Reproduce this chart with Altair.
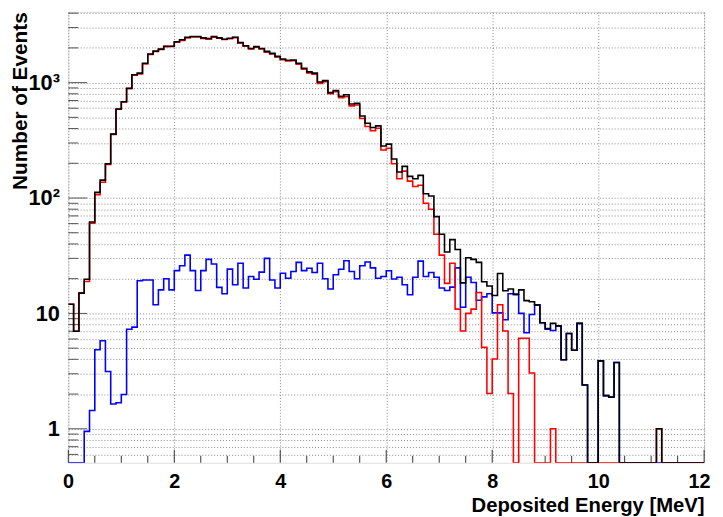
import altair as alt
import pandas as pd

# ---- data (120 bins of 0.1 MeV, 0-12 MeV) ----
bin_lo = [round(i * 0.1, 1) for i in range(120)]
bin_hi_last = 12.0

black = [12.0, 7.0, 15.0, 19.8, 62, 112, 143, 198, 358, 590,
         682, 894, 1169, 1208, 1472, 1771, 1876, 1951, 2070, 2070,
         2260, 2350, 2473, 2508, 2508, 2443, 2410, 2508, 2443, 2380,
         2425, 2473, 2227, 2090, 1978, 2050, 1978, 1866, 1794, 1690,
         1603, 1562, 1570, 1472, 1333, 1239, 1208, 1012, 1040, 819,
         855, 763, 785, 652, 661, 514, 444, 408, 422, 282,
         293, 218, 168, 188, 154, 147, 157, 109, 104, 69,
         48.5, 34, 43.6, 35.8, 18.4, 30.4, 29.4, 27.7, 18.8, 17.3,
         14.3, 22.2, 15.7, 16.3, 14.7, 16.0, 12.9, 12.6, 11.8, 8.3,
         7.4, 8.2, 7.8, 3.97, 6.7, 4.8, 8.2, 2.4, 0, 0,
         3.88, 1.94, 1.88, 3.75, 0, 0, 0, 0, 0, 0,
         0, 1.0, 0, 0, 0, 0, 0, 0, 0, 0]

red = [12.0, 7.0, 15.0, 18.9, 60.5, 107, 137, 195, 356, 588,
       680, 887, 1161, 1189, 1452, 1751, 1864, 1935, 2050, 2054,
       2237, 2324, 2441, 2485, 2492, 2420, 2381, 2481, 2426, 2365,
       2401, 2455, 2200, 2073, 1957, 2030, 1955, 1836, 1774, 1673,
       1581, 1542, 1547, 1444, 1310, 1214, 1185, 985, 1020, 803,
       833, 739, 756, 629, 641, 488, 416, 383, 402, 261,
       270, 198, 147, 171, 140, 126, 129, 90, 80, 48.6,
       32, 18.2, 27.2, 10.9, 7.05, 10, 10.9, 15.2, 5.08, 2.02,
       4.03, 11.9, 7.05, 2.02, 0, 6.1, 6.1, 3.04, 0, 0,
       0, 1.0, 0, 0, 0, 0, 0, 0, 0, 0,
       0, 0, 0, 0, 0, 0, 0, 0, 0, 0,
       0, 1.0, 0, 0, 0, 0, 0, 0, 0, 0]

blue = [0, 0, 0, 0.95, 1.44, 4.85, 5.8, 3.14, 1.64, 1.68,
        1.98, 7.3, 7.6, 19.2, 19.5, 19.5, 11.9, 16, 20, 16,
        23.5, 25.9, 32, 23.5, 15.8, 23.5, 29.4, 26.8, 16.8, 14.8,
        24.2, 17.7, 27.2, 16.6, 20.9, 19.8, 22.8, 30.0, 19.5, 16.6,
        22.3, 20.2, 23.1, 27.7, 23.5, 24.6, 22.6, 27.2, 20, 16.3,
        21.6, 24.1, 28.6, 23.1, 20, 25.9, 27.9, 24.8, 20.2, 20.9,
        23.4, 19.9, 20.6, 17.7, 14.5, 20.6, 28.4, 20.9, 22.6, 20.6,
        16.6, 15.8, 16.9, 24.8, 11.3, 20.6, 18.5, 13, 13.9, 14.8,
        10.1, 10.1, 8.8, 14.8, 14.5, 10, 6.8, 9.8, 11.9, 8.3,
        7.3, 7.1, 7.8, 3.97, 6.7, 4.8, 8.2, 2.4, 0, 0,
        3.88, 1.94, 1.88, 3.75, 0, 0, 0, 0, 0, 0,
        0, 0, 0, 0, 0, 0, 0, 0, 0, 0]

x_major = [0, 2, 4, 6, 8, 10, 12]
x_minor = [0.5, 1, 1.5, 2.5, 3, 3.5, 4.5, 5, 5.5, 6.5, 7, 7.5,
           8.5, 9, 9.5, 10.5, 11, 11.5]
y_major = [1, 10, 100, 1000]
y_minor = [0.6, 0.7, 0.8, 0.9, 2, 3, 4, 5, 6, 7, 8, 9,
           20, 30, 40, 50, 60, 70, 80, 90,
           200, 300, 400, 500, 600, 700, 800, 900, 2000, 3000, 4000]

Y_MIN, Y_MAX = 0.508, 4107
W, H = 643, 456
FONT = "Liberation Sans"

xscale = alt.Scale(domain=[0, 12], nice=False, zero=False)
yscale = alt.Scale(type="log", domain=[Y_MIN, Y_MAX], nice=False)

xaxis = alt.Axis(values=x_major, grid=True, gridDash=[1, 2], gridColor="#8a8a8a",
                 gridWidth=1, ticks=False, domain=False,
                 labelFont=FONT, labelFontWeight="bold", labelFontSize=20,
                 labelColor="black", labelPadding=9, labelFlush=True,
                 labelFlushOffset=6,
                 title="Deposited Energy [MeV]", titleFont=FONT,
                 titleFontWeight="bold", titleFontSize=20.5, titleColor="black",
                 titleAnchor="end", titleAlign="right", titleX=W, titleY=49,
                 titleBaseline="alphabetic")

ylabel = ("datum.value == 1 ? '1' : datum.value == 10 ? '10' : "
          "datum.value == 100 ? '10\u00b2' : datum.value == 1000 ? '10\u00b3' : ''")
yaxis = alt.Axis(values=sorted(y_major + y_minor), grid=True, gridDash=[1, 2],
                 gridColor="#8a8a8a", gridWidth=1, ticks=False, domain=False,
                 labelExpr=ylabel, labelFont=FONT, labelFontWeight="bold",
                 labelFontSize=22, labelColor="black", labelPadding=9,
                 labelBaseline="middle",
                 title="Number of Events", titleFont=FONT, titleFontWeight="bold",
                 titleFontSize=21, titleColor="black", titleAngle=-90,
                 titleAlign="right", titleAnchor="end", titleX=-42, titleY=0,
                 titleBaseline="alphabetic")


def steps(vals):
    return pd.DataFrame({"x": bin_lo + [bin_hi_last], "y": list(vals) + [vals[-1]]})


def hist(vals, color):
    return (alt.Chart(steps(vals))
            .transform_calculate(yc=f"max(datum.y, {Y_MIN})")
            .mark_line(interpolate="step-after", color=color, strokeWidth=1.6, clip=True)
            .encode(x=alt.X("x:Q", scale=xscale, axis=xaxis),
                    y=alt.Y("yc:Q", scale=yscale, axis=yaxis)))


def xticks(vals, length):
    return (alt.Chart(pd.DataFrame({"x": vals}))
            .mark_rule(color="#333333", strokeWidth=1)
            .encode(x=alt.X("x:Q", scale=xscale, axis=xaxis),
                    y=alt.value(H), y2=alt.value(H - length)))


def yticks(vals, length):
    return (alt.Chart(pd.DataFrame({"v": vals}))
            .mark_rule(color="#555555", strokeWidth=1)
            .encode(y=alt.Y("v:Q", scale=yscale, axis=yaxis),
                    x=alt.value(0), x2=alt.value(length)))


chart = alt.layer(
    xticks(x_minor, 7), xticks(x_major, 13),
    yticks(y_minor, 10), yticks(y_major, 19),
    hist(blue, "#0000ff"), hist(red, "#ff0000"), hist(black, "#000000"),
).properties(
    width=W, height=H,
    padding={"left": 61, "top": 1, "right": 11, "bottom": 52},
    autosize=alt.AutoSizeParams(type="none"),
).configure_view(stroke="#222222", strokeWidth=1).configure(background="white")

chart.save("out.html", embed_options={"renderer": "svg", "actions": False})
